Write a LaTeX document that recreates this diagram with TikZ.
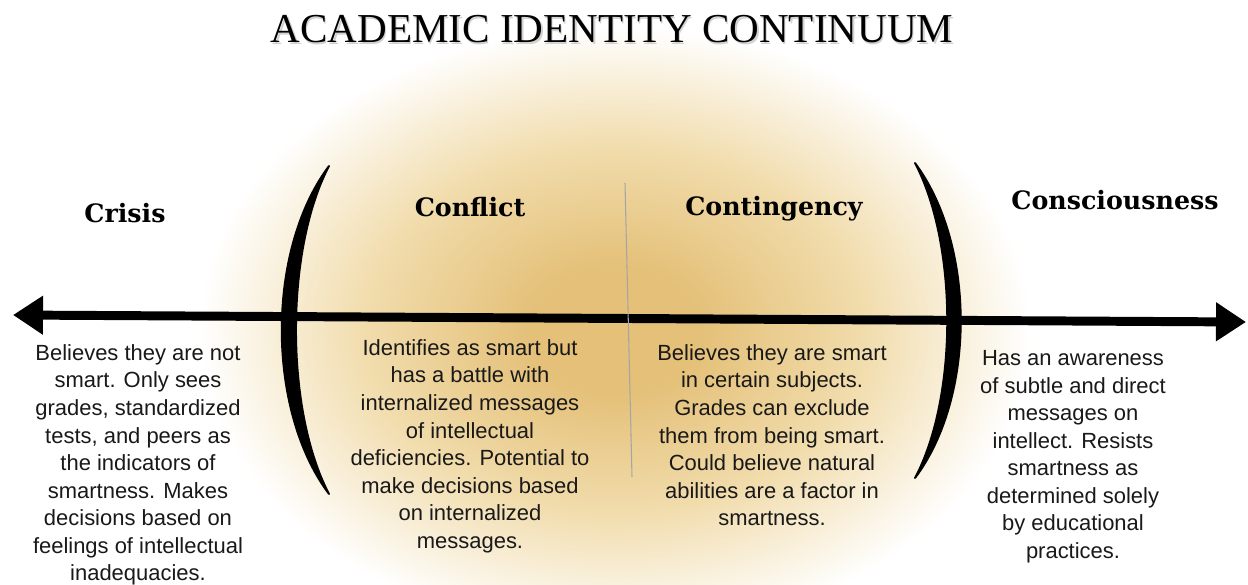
\documentclass[tikz,border=0pt]{standalone}
\usepackage{fontspec}
\setmainfont{Liberation Sans}
\newfontfamily\headfont{DejaVu Serif}
\newfontfamily\titlefont{Liberation Serif}
\usetikzlibrary{arrows.meta}

\definecolor{glowcore}{RGB}{228,192,120}
\definecolor{glowmid}{RGB}{241,220,172}
\definecolor{divider}{RGB}{165,165,165}
% the path's box spans 0..25bp of the shading
\pgfdeclareradialshading{goldglow}{\pgfpoint{0bp}{0bp}}{%
  color(0bp)=(glowcore); color(4bp)=(glowcore); color(12bp)=(glowmid);
  color(20bp)=(white); color(25bp)=(white); color(50bp)=(white)}

\tikzset{
  stage/.style={font=\headfont\bfseries\fontsize{14.4}{17}\selectfont,
                anchor=base, inner sep=0pt},
  blurb/.style={font=\fontsize{12.5}{15.7}\selectfont, text=black!90,
                align=center, anchor=north, inner sep=0pt},
  bracket/.style={fill=black, draw=black, line width=1.1pt, line join=round},
  axis/.style={line width=5.1pt,
               {Triangle[length=0.6cm,width=0.74cm]}-{Triangle[length=0.6cm,width=0.74cm]}}
}

\begin{document}
\begin{tikzpicture}[x=0.02cm, y=-0.02cm]
  \useasboundingbox (0,0) rectangle (1248,585);

  % golden glow behind the middle stages
  \begin{scope}
    \clip (0,0) rectangle (1248,585);
    \shade[shading=goldglow] (615,330) ellipse [x radius=520, y radius=380];
  \end{scope}

  % title with a soft shadow
  \node[font=\titlefont\fontsize{23.4}{28}\selectfont, text=black!18, anchor=base]
    (titleShadow) at (613.5,44.5) {ACADEMIC IDENTITY CONTINUUM};
  \node[font=\titlefont\fontsize{23.4}{28}\selectfont, anchor=base]
    (title) at (612,42) {ACADEMIC IDENTITY CONTINUUM};

  % the continuum
  \coordinate (axisL) at (13,315);
  \coordinate (axisR) at (1246,322);
  \draw[axis] (axisL) -- (axisR);

  % thin divider between conflict and contingency
  \coordinate (divTop) at (625,183);
  \coordinate (divBot) at (632,477);
  \draw[divider, line width=0.6pt] (divTop) -- (divBot);

  % brackets round the middle stages
  \draw[bracket] (329,166) .. controls (266,250) and (266,410) .. (329,494)
    .. controls (285,410) and (285,250) .. cycle;
  \draw[bracket] (915,163) .. controls (976,245) and (976,397) .. (915,478)
    .. controls (958,397) and (958,245) .. cycle;

  % stage names
  \node[stage] (crisis) at (125,222) {Crisis};
  \node[stage] (conflict) at (470,216) {Conflict};
  \node[stage] (contingency) at (774,215) {Contingency};
  \node[stage] (consciousness) at (1115,209) {Consciousness};

  % descriptions
  \node[blurb] (crisisText) at (138,344) {Believes they are not\\smart. Only sees\\
    grades, standardized\\tests, and peers as\\the indicators of\\
    smartness. Makes\\decisions based on\\feelings of intellectual\\inadequacies.};
  \node[blurb] (conflictText) at (470,339) {Identifies as smart but\\has a battle with\\
    internalized messages\\of intellectual\\deficiencies. Potential to\\
    make decisions based\\on internalized\\messages.};
  \node[blurb] (contingencyText) at (772,344) {Believes they are smart\\
    in certain subjects.\\Grades can exclude\\them from being smart.\\
    Could believe natural\\abilities are a factor in\\smartness.};
  \node[blurb] (consciousnessText) at (1073,350) {Has an awareness\\
    of subtle and direct\\messages on\\intellect. Resists\\smartness as\\
    determined solely\\by educational\\practices.};
\end{tikzpicture}
\end{document}
